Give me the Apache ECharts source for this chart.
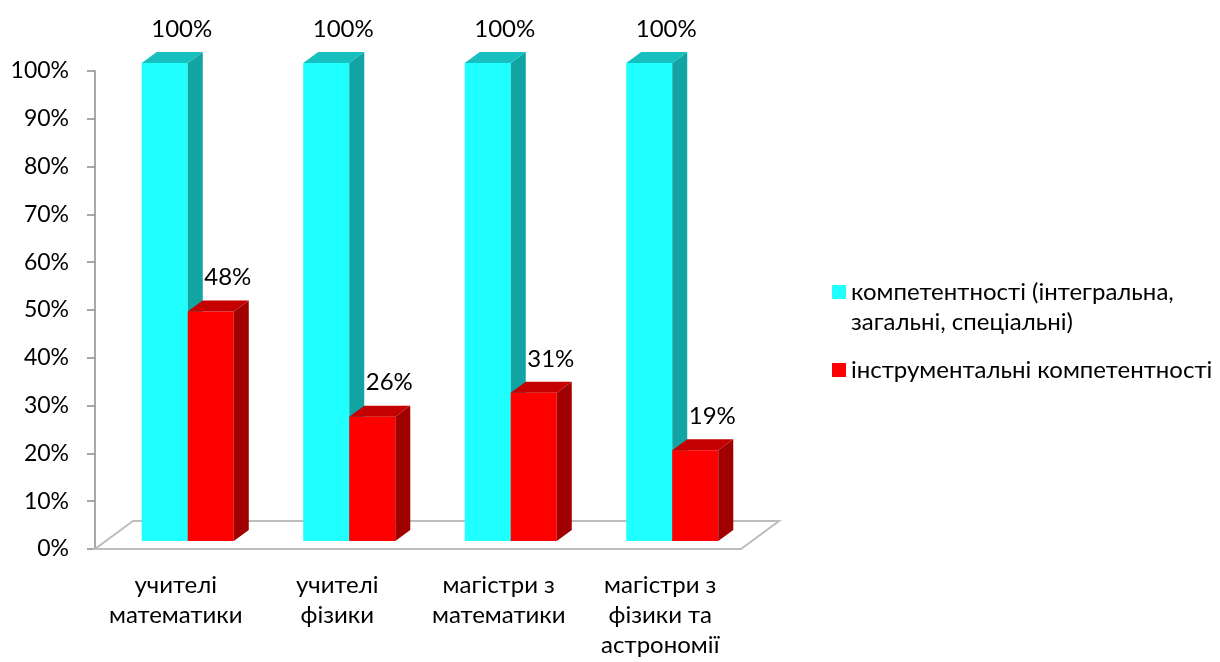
<!DOCTYPE html>
<html>
<head>
<meta charset="utf-8">
<script src="https://cdn.jsdelivr.net/npm/echarts@6/dist/echarts.min.js"></script>
<style>
html,body{margin:0;padding:0;background:#fff;}
#main{width:1220px;height:662px;}
</style>
</head>
<body>
<div id="main"></div>
<script>
const categories = ['учителі\nматематики', 'учителі\nфізики', 'магістри з\nматематики', 'магістри з\nфізики та\nастрономії'];
const seriesNames = ['компетентності (інтегральна, загальні, спеціальні)', 'інструментальні компетентності'];
const competences = [100, 100, 100, 100];
const instrumental = [48, 26, 31, 19];
const yTicks = [0, 10, 20, 30, 40, 50, 60, 70, 80, 90, 100];

const FONT = 'Lato, "Noto Sans", sans-serif';
const TXT = '#000';
// 3D geometry (pixels)
const OX = 12, OY = -8;      // bars front plane offset from axis plane
const DX = 15, DY = -11;     // bar depth
const FX = 38, FY = -28;     // floor depth
const BAR_FRAC = 0.285;

const palettes = [
  {front: '#1FFFFF', top: '#17BFBF', side: '#12A3A3'},
  {front: '#FF0000', top: '#C40000', side: '#A00000'}
];

function makeBarRender(seriesIdx) {
  return function (params, api) {
    const idx = api.value(0);
    const val = api.value(1);
    const top = api.coord([idx, val]);
    const base = api.coord([idx, 0]);
    const bw = api.size([1, 0])[0] * BAR_FRAC;
    const x0 = top[0] + OX + (seriesIdx === 0 ? -bw : 0);
    const x1 = x0 + bw;
    const yb = base[1] + OY;
    const yt = top[1] + OY;
    const pal = palettes[seriesIdx];
    return {
      type: 'group',
      children: [
        {type: 'polygon', shape: {points: [[x0, yb], [x1, yb], [x1, yt], [x0, yt]]}, style: {fill: pal.front}},
        {type: 'polygon', shape: {points: [[x1, yb], [x1 + DX, yb + DY], [x1 + DX, yt + DY], [x1, yt]]}, style: {fill: pal.side}},
        {type: 'polygon', shape: {points: [[x0, yt], [x1, yt], [x1 + DX, yt + DY], [x0 + DX, yt + DY]]}, style: {fill: pal.top}},
        {type: 'text', style: {text: val + '%', x: (x0 + x1) / 2 + 17, y: yt + DY - 11, align: 'center', verticalAlign: 'bottom', fill: TXT, font: '24px ' + FONT}}
      ]
    };
  };
}

const chart = echarts.init(document.getElementById('main'));
chart.setOption({
  backgroundColor: '#fff',
  animation: false,
  grid: {left: 95, right: 479, top: 71, bottom: 113},
  legend: {
    orient: 'vertical',
    left: 827,
    top: 242,
    itemWidth: 14,
    itemHeight: 14,
    itemGap: 18,
    icon: 'rect',
    formatter: function (name) { return name === seriesNames[0] ? '\nкомпетентності (інтегральна,\nзагальні, спеціальні)' : name; },
    textStyle: {fontFamily: FONT, fontSize: 24, lineHeight: 30, color: TXT},
    data: [
      {name: seriesNames[0], itemStyle: {color: palettes[0].front}},
      {name: seriesNames[1], itemStyle: {color: palettes[1].front}}
    ]
  },
  xAxis: {
    type: 'category',
    data: categories,
    boundaryGap: true,
    axisLine: {lineStyle: {color: '#8C8C8C', width: 1.5}},
    axisTick: {length: 7, lineStyle: {color: '#8C8C8C', width: 1.5}},
    axisLabel: {interval: 0, margin: 21, fontFamily: FONT, fontSize: 24, lineHeight: 30, color: TXT}
  },
  yAxis: {
    type: 'value',
    min: 0, max: 100, interval: 10,
    axisLine: {show: true, lineStyle: {color: '#8C8C8C', width: 1.5}},
    axisTick: {show: true, length: 8, lineStyle: {color: '#8C8C8C', width: 1.5}},
    splitLine: {show: false},
    axisLabel: {margin: 26, fontFamily: FONT, fontSize: 23, color: TXT, formatter: '{value}%'}
  },
  series: [
    {
      type: 'custom',
      name: 'floor',
      silent: true,
      z: 1,
      data: [[0, 0]],
      renderItem: function (params, api) {
        const cs = params.coordSys;
        const yb = cs.y + cs.height, xl = cs.x, xr = cs.x + cs.width;
        return {
          type: 'polygon',
          shape: {points: [[xl, yb], [xr, yb], [xr + FX, yb + FY], [xl + FX, yb + FY]]},
          style: {fill: '#fff', stroke: '#BDBDBD', lineWidth: 2}
        };
      }
    },
    {
      type: 'custom',
      name: seriesNames[0],
      z: 2,
      itemStyle: {color: palettes[0].front},
      data: competences.map((v, i) => [i, v]),
      renderItem: makeBarRender(0)
    },
    {
      type: 'custom',
      name: seriesNames[1],
      z: 3,
      itemStyle: {color: palettes[1].front},
      data: instrumental.map((v, i) => [i, v]),
      renderItem: makeBarRender(1)
    }
  ]
});
</script>
</body>
</html>
